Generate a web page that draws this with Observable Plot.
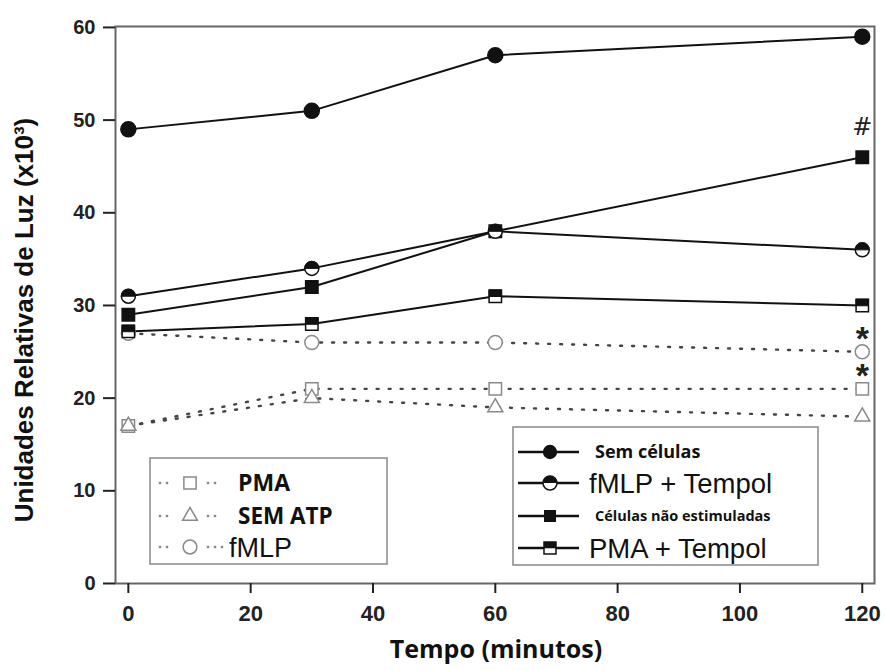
<!DOCTYPE html>
<html><head><meta charset="utf-8">
<script src="https://cdn.jsdelivr.net/npm/d3@7"></script>
<script src="https://cdn.jsdelivr.net/npm/@observablehq/plot@0.6"></script>
<style>body{margin:0;background:#fff} #chart svg{display:block}</style>
</head><body><div id="chart"></div>
<script>
// ---- data ----
const time = [0, 30, 60, 120];
const semCelulas = [49, 51, 57, 59];
const fmlpTempol = [31, 34, 38, 36];
const celulasNaoEstimuladas = [29, 32, 38, 46];
const pmaTempol = [27.2, 28, 31, 30];
const pma = [17, 21, 21, 21];
const semAtp = [17, 20, 19, 18];
const fmlp = [27, 26, 26, 25];
const xTicks = [0, 20, 40, 60, 80, 100, 120];
const yTicks = [0, 10, 20, 30, 40, 50, 60];
const noteTime = [120, 120, 120];
const noteValue = [49.2, 26.4, 22.4];
const noteLabel = ["#", "*", "*"];
const xTitle = "Tempo (minutos)";
const yTitle = "Unidades Relativas de Luz (x10³)";
const legendLeft = ["PMA", "SEM ATP", "fMLP"];
const legendRight = ["Sem células", "fMLP + Tempol", "Células não estimuladas", "PMA + Tempol"];

const rows = vals => time.map((t, i) => ({t, v: vals[i]}));
const notes = noteLabel.map((label, i) => ({t: noteTime[i], v: noteValue[i], label}));

const topHalfCircle = {draw(ctx, size) {const r = Math.sqrt(size / Math.PI); ctx.moveTo(r, 0); ctx.arc(0, 0, r, 0, Math.PI, true); ctx.closePath();}};
const topHalfSquare = {draw(ctx, size) {const s = Math.sqrt(size) / 2; ctx.rect(-s, -s, 2 * s, s * 1.05);}};

const dotted = {stroke: "#444", strokeWidth: 2.4, strokeDasharray: "2 10"};
const solid = {stroke: "#111", strokeWidth: 2};
const openM = {fill: "white", stroke: "#8a8a8a", strokeWidth: 1.5};
const xy = {x: "t", y: "v"};

const svg = Plot.plot({
  width: 886, height: 670,
  marginLeft: 115, marginRight: 12, marginTop: 26, marginBottom: 87,
  style: {fontFamily: "'Liberation Sans', Arial, sans-serif", background: "white", color: "#111"},
  x: {domain: [-2.1, 122]},
  y: {domain: [0, 60.1]},
  marks: [
    Plot.frame({stroke: "#666", strokeWidth: 2}),
    Plot.axisX({ticks: xTicks, tickSize: 10, tickPadding: 12, fontSize: 22, fontWeight: "bold", strokeWidth: 2, color: "#222", label: null}),
    Plot.axisY({ticks: yTicks, tickSize: 12, tickPadding: 8, fontSize: 20, fontWeight: "bold", strokeWidth: 2, color: "#222", label: null}),
    Plot.line(rows(pma), {...xy, ...dotted}),
    Plot.line(rows(semAtp), {...xy, ...dotted}),
    Plot.line(rows(fmlp), {...xy, ...dotted}),
    Plot.line(rows(semCelulas), {...xy, ...solid}),
    Plot.line(rows(fmlpTempol), {...xy, ...solid}),
    Plot.line(rows(celulasNaoEstimuladas), {...xy, ...solid}),
    Plot.line(rows(pmaTempol), {...xy, ...solid}),
    Plot.dot(rows(fmlp), {...xy, symbol: "circle", r: 7, ...openM}),
    Plot.dot(rows(pma), {...xy, symbol: "square", r: 7, ...openM}),
    Plot.dot(rows(semAtp), {...xy, symbol: "triangle", r: 5.6, ...openM}),
    Plot.dot(rows(pmaTempol), {...xy, symbol: "square", r: 7, fill: "white", stroke: "#111", strokeWidth: 1.5}),
    Plot.dot(rows(pmaTempol), {...xy, symbol: topHalfSquare, r: 7, fill: "#111", stroke: "#111", strokeWidth: 1}),
    Plot.dot(rows(celulasNaoEstimuladas), {...xy, symbol: "square", r: 7, fill: "#111", stroke: "#111"}),
    Plot.dot(rows(fmlpTempol), {...xy, symbol: "circle", r: 7, fill: "white", stroke: "#111", strokeWidth: 1.5}),
    Plot.dot(rows(fmlpTempol), {...xy, symbol: topHalfCircle, r: 7, fill: "#111", stroke: "#111", strokeWidth: 1}),
    Plot.dot(rows(semCelulas), {...xy, symbol: "circle", r: 7.5, fill: "#111", stroke: "#111"}),
    Plot.text(notes.filter(d => d.label === "#"), {...xy, text: "label", fontSize: 24, fill: "#222", fontFamily: "'DejaVu Sans', sans-serif"}),
    Plot.text(notes.filter(d => d.label === "*"), {...xy, text: "label", fontSize: 34, fontWeight: "bold", fill: "#222"})
  ]
});
document.getElementById("chart").appendChild(svg);

// ---- titles and legends ----
const s = d3.select(svg);
s.append("text").attr("x", 496).attr("y", 658).attr("text-anchor", "middle")
  .attr("font-family", "'Open Sans', sans-serif").attr("font-weight", "bold").attr("font-size", 25).attr("fill", "#111").text(xTitle);
s.append("text").attr("transform", "translate(33,320) rotate(-90)").attr("text-anchor", "middle")
  .attr("font-weight", "bold").attr("font-size", 26).attr("fill", "#111").text(yTitle);

const sym = (type, size) => d3.symbol(type, size)();

// left legend
const L = s.append("g").attr("text-anchor", "start");
L.append("rect").attr("x", 150).attr("y", 458).attr("width", 237).attr("height", 106).attr("fill", "white").attr("stroke", "#888").attr("stroke-width", 1.5);
const leftY = [483, 516, 547];
const leftSym = [d3.symbolSquare, d3.symbolTriangle, d3.symbolCircle];
const leftSize = [150, 95, 150];
const leftX = [238, 238, 229];
const leftFont = [["'Open Sans', sans-serif", "bold", 23], ["'Open Sans', sans-serif", "bold", 22.5], ["'Liberation Sans', Arial, sans-serif", "normal", 27]];
legendLeft.forEach((name, i) => {
  const y = leftY[i];
  [160, 167, 208, 215].concat(i === 2 ? [222] : []).forEach(dx =>
    L.append("rect").attr("x", dx - 1.2).attr("y", y - 1.2).attr("width", 2.4).attr("height", 2.4).attr("fill", "#888"));
  L.append("path").attr("d", sym(leftSym[i], leftSize[i])).attr("transform", `translate(190,${y})`).attr("fill", "white").attr("stroke", "#8a8a8a").attr("stroke-width", 1.5);
  L.append("text").attr("x", leftX[i]).attr("y", y).attr("dy", "0.36em").attr("text-anchor", "start").attr("font-family", leftFont[i][0]).attr("font-weight", leftFont[i][1]).attr("font-size", leftFont[i][2]).attr("fill", "#111").text(name);
});

// right legend
const R = s.append("g").attr("text-anchor", "start");
R.append("rect").attr("x", 513).attr("y", 427).attr("width", 305).attr("height", 138).attr("fill", "white").attr("stroke", "#888").attr("stroke-width", 1.5);
const rightY = [452, 483, 516, 548];
const rightX = [595, 589, 595, 589];
const rightFont = [["'Open Sans', sans-serif", "bold", 18], ["'Liberation Sans', Arial, sans-serif", "normal", 27.5], ["'Open Sans', sans-serif", "bold", 14.5], ["'Liberation Sans', Arial, sans-serif", "normal", 27.5]];
legendRight.forEach((name, i) => {
  const y = rightY[i];
  R.append("line").attr("x1", 518).attr("x2", 579).attr("y1", y).attr("y2", y).attr("stroke", "#111").attr("stroke-width", 2.5);
  const g = R.append("g").attr("transform", `translate(550,${y})`);
  if (i === 0) g.append("path").attr("d", sym(d3.symbolCircle, 160)).attr("fill", "#111");
  if (i === 1) {
    g.append("path").attr("d", sym(d3.symbolCircle, 154)).attr("fill", "white").attr("stroke", "#111").attr("stroke-width", 1.5);
    g.append("path").attr("d", sym(topHalfCircle, 154)).attr("fill", "#111");
  }
  if (i === 2) g.append("path").attr("d", sym(d3.symbolSquare, 144)).attr("fill", "#111");
  if (i === 3) {
    g.append("path").attr("d", sym(d3.symbolSquare, 144)).attr("fill", "white").attr("stroke", "#111").attr("stroke-width", 1.5);
    g.append("path").attr("d", sym(topHalfSquare, 144)).attr("fill", "#111");
  }
  R.append("text").attr("x", rightX[i]).attr("y", y).attr("dy", "0.36em").attr("text-anchor", "start").attr("font-family", rightFont[i][0]).attr("font-weight", rightFont[i][1]).attr("font-size", rightFont[i][2]).attr("fill", "#111").text(name);
});
</script>
</body></html>
